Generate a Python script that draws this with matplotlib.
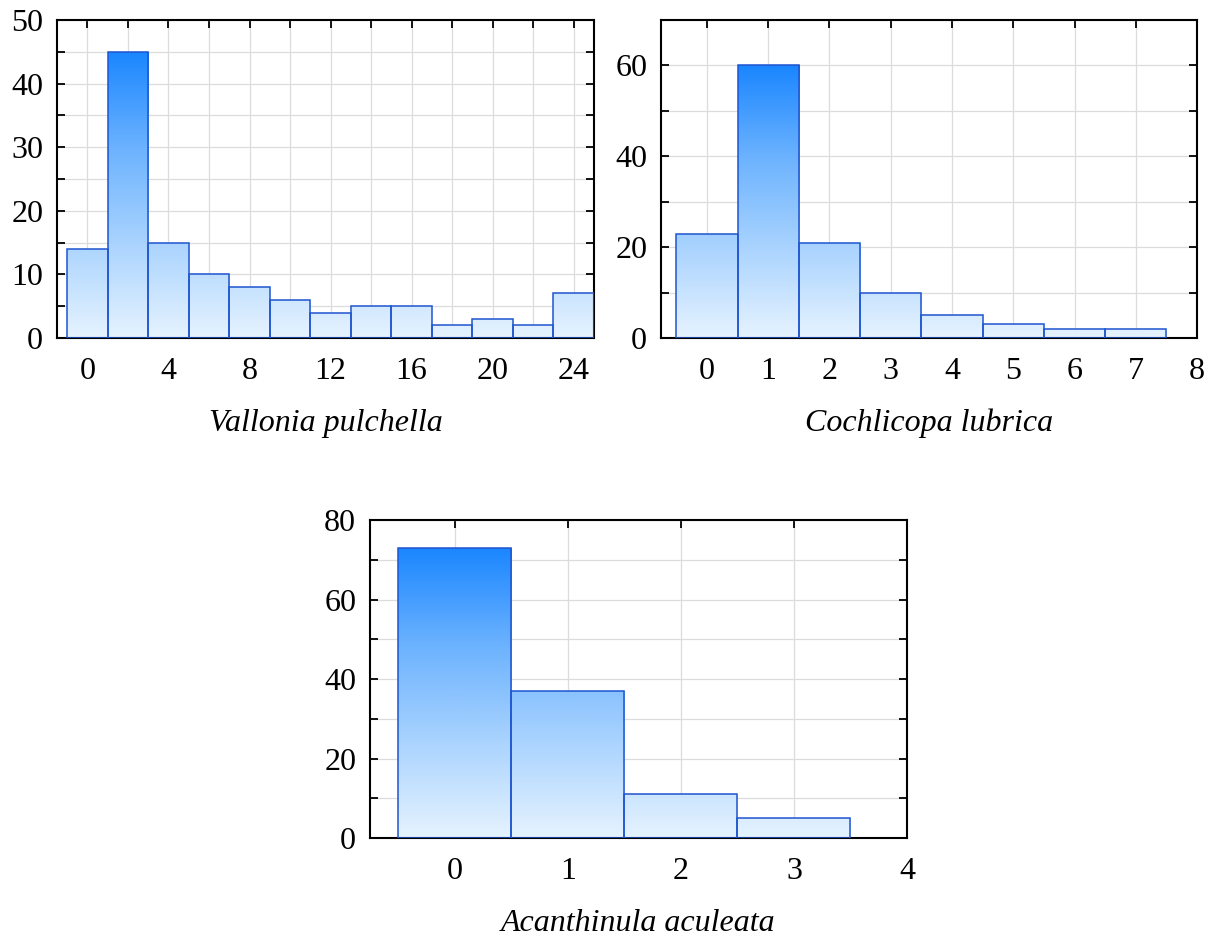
import numpy as np
import matplotlib; matplotlib.use("Agg")
import matplotlib.pyplot as plt
from matplotlib.colors import LinearSegmentedColormap
from matplotlib.ticker import MultipleLocator

plt.rcParams.update({"font.family": ["Liberation Serif", "DejaVu Serif"],
                     "font.size": 23})

# ---- data ----
vp_centers = [0, 2, 4, 6, 8, 10, 12, 14, 16, 18, 20, 22, 24]
vp_counts = [14, 45, 15, 10, 8, 6, 4, 5, 5, 2, 3, 2, 7]
cl_centers = [0, 1, 2, 3, 4, 5, 6, 7]
cl_counts = [23, 60, 21, 10, 5, 3, 2, 2]
aa_centers = [0, 1, 2, 3]
aa_counts = [73, 37, 11, 5]

GRAD = LinearSegmentedColormap.from_list(
    "g", ["#e6f3ff", "#a9d3fe", "#6bb2fe", "#1a86ff"])
EDGE = "#1f55d0"

fig = plt.figure(figsize=(12.16, 9.36), dpi=100)


def hist(rect, centers, counts, width, xlim, ylim, xmaj, xmin, ymaj, ymin, label):
    ax = fig.add_axes(rect)
    top = max(counts)
    grad = np.linspace(0, 1, 256).reshape(-1, 1)
    bars = ax.bar(centers, counts, width, facecolor="none", edgecolor=EDGE,
                  lw=1.1, zorder=3)
    # gradient fill, clipped to each bar
    for b in bars:
        x0 = b.get_x(); x1 = x0 + b.get_width()
        im = ax.imshow(grad, extent=[x0, x1, 0, top], origin="lower",
                       aspect="auto", cmap=GRAD, zorder=2)
        im.set_clip_path(b)
    ax.set_xlim(*xlim); ax.set_ylim(*ylim)
    ax.xaxis.set_major_locator(MultipleLocator(xmaj))
    ax.xaxis.set_minor_locator(MultipleLocator(xmin))
    ax.yaxis.set_major_locator(MultipleLocator(ymaj))
    ax.yaxis.set_minor_locator(MultipleLocator(ymin))
    ax.grid(True, which="both", color="#dcdcdc", lw=0.9, zorder=0)
    ax.set_axisbelow(True)
    ax.tick_params(which="both", direction="in", top=True, right=True,
                   length=6, width=1.3, color="black")
    ax.tick_params(axis="x", pad=14)
    ax.tick_params(axis="y", pad=10)
    for s in ax.spines.values():
        s.set_linewidth(1.5)
    ax.set_xlabel(label, style="italic", labelpad=16)
    return ax


hist([0.0469, 0.6389, 0.4416, 0.3397], vp_centers, vp_counts, 2,
     (-1.5, 25), (0, 50), 4, 2, 10, 5, "Vallonia pulchella")
hist([0.5436, 0.6389, 0.4408, 0.3397], cl_centers, cl_counts, 1,
     (-0.75, 8), (0, 70), 1, 1, 20, 10, "Cochlicopa lubrica")
hist([0.3043, 0.1047, 0.4416, 0.3397], aa_centers, aa_counts, 1,
     (-0.75, 4), (0, 80), 1, 1, 20, 10, "Acanthinula aculeata")

fig.savefig("out.png", dpi=100)
